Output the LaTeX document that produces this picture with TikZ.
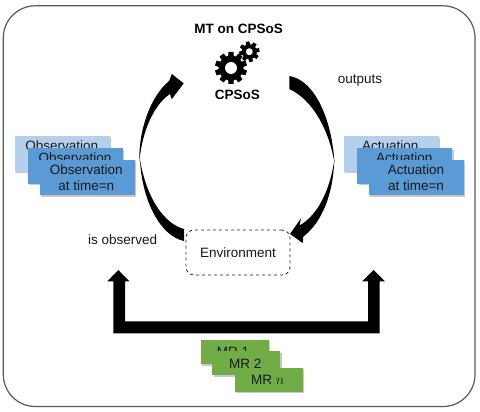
\documentclass[tikz,border=0pt]{standalone}
\usepackage{fontspec}
\setmainfont{Liberation Sans}
\usetikzlibrary{shadows}
\definecolor{lightblue}{HTML}{B5D0EC}
\definecolor{midblue}{HTML}{5B9BD5}
\definecolor{mrgreen}{HTML}{70AD47}
\tikzset{
  x=1pt,y=-1pt,
  txt/.style={font=\fontsize{13.5}{16}\selectfont,inner sep=0pt,align=center,text=black!90},
  bold/.style={txt,font=\fontsize{13.5}{16}\selectfont\bfseries,text=black},
  softshadow/.style={drop shadow={shadow xshift=1.2pt,shadow yshift=-1.5pt,opacity=.3,fill=black!70}},
  card/.style={minimum width=95pt,minimum height=35.5pt,inner sep=0pt,softshadow},
  cardlight/.style={card,fill=lightblue},
  cardmid/.style={card,fill=midblue},
  mrcard/.style={minimum width=68pt,minimum height=24pt,inner sep=0pt,fill=mrgreen,softshadow},
  sweep/.style={fill=black,draw=none},
}
\newcommand{\gearteeth}[4]{% count, root radius, tip radius, half angle
  \fill (0,0) circle (#2);
  \foreach \a in {1,...,#1}{
    \fill[rotate=\a*360/#1] (-#4,0) -- (-#4*.7,-#3) -- (#4*.7,-#3) -- (#4,0) -- cycle;
  }
}
\begin{document}
\begin{tikzpicture}
\useasboundingbox (0,0) rectangle (480,412);
\fill[white] (0,0) rectangle (480,412);
% frame
\draw[line width=1.2pt,draw=black!65,rounded corners=32pt] (3.3,5.8) rectangle (475,406.5);

% title and labels
\node[bold] (title) at (238.7,28.7) {MT on CPSoS};
\node[bold] (cpsos) at (237.3,95.3) {CPSoS};
\node[txt,anchor=west] (outputs) at (337.7,81) {outputs};
\node[txt] (observed) at (122.7,239.3) {is observed};

% gears
\begin{scope}[shift={(231,68)}]
  \gearteeth{10}{12.5}{16}{3.6}
  \fill[white] (0,0) circle (6);
\end{scope}
\begin{scope}[shift={(249.3,51.7)},rotate=10]
  \gearteeth{8}{7.5}{10.2}{2.6}
  \fill[white] (0,0) circle (3.5);
\end{scope}

% observation stack
\node[cardlight] (obsa) at (62,153.8) {};
\node[txt] (obsat) at (61.7,146) {Observation};
\node[cardmid] (obsb) at (75.4,165.8) {};
\node[txt] (obsbt) at (75,157.5) {Observation};
\node[cardmid] (obsc) at (87,177.7) {};
\node[txt] (obsct) at (86.3,178) {Observation\\at time=n};

% actuation stack
\node[cardlight] (acta) at (391,153.8) {};
\node[txt] (actat) at (390.3,146) {Actuation};
\node[cardmid] (actb) at (404.8,165.8) {};
\node[txt] (actbt) at (404.3,157.5) {Actuation};
\node[cardmid] (actc) at (416.7,177.7) {};
\node[txt] (actct) at (416,178) {Actuation\\at time=n};

% crescent arrows
\path[sweep] (139.3,163) .. controls (138.5,130) and (150,97) .. (169.3,80.7)
  -- (171.7,74) -- (183.7,83.3) -- (171.7,99.3) -- (170,94)
  .. controls (156,103) and (142,128) .. (139.3,163) -- cycle;
\path[sweep] (140,160) .. controls (142,200) and (160,236) .. (184,241)
  -- (184,229) .. controls (165,224) and (147,200) .. (140,160) -- cycle;
\path[sweep] (289.3,76) .. controls (315,80) and (332,120) .. (334.5,163)
  .. controls (329,130) and (313,100) .. (289.3,89) -- cycle;
\path[sweep] (334.3,160) .. controls (333,195) and (322,222) .. (303.3,236.7)
  -- (302.7,243) -- (290,234) -- (301,218.3) -- (299.5,225.5)
  .. controls (318,215) and (330,190) .. (334.3,160) -- cycle;

% environment
\node[draw=black!85,dashed,line width=.8pt,rounded corners=8pt,minimum width=104pt,minimum height=45pt,inner sep=0pt,
  font=\fontsize{13.5}{16}\selectfont,text=black!90] (env) at (238,252.5) {Environment};

% bracket arrow
\path[sweep] (113.3,333.3) -- (113.3,281.3) -- (107.3,281.3) -- (118.3,270) -- (129.3,281.3) -- (125,281.3)
  -- (125,321.3) -- (368,321.3) -- (368,281.3) -- (362.3,281.3) -- (373.5,270) -- (385,281.3) -- (379.7,281.3)
  -- (379.7,333.3) -- cycle;

% MR stack
\node[mrcard] (mra) at (234.7,352) {};
\node[txt] (mrat) at (233,351.6) {MR 1};
\node[mrcard] (mrb) at (246.3,363.3) {};
\node[txt] (mrbt) at (245.3,363.3) {MR 2};
\node[mrcard] (mrc) at (268.5,379.5) {};
\node[txt] (mrct) at (267.7,379.7) {MR $n$};
\end{tikzpicture}
\end{document}
